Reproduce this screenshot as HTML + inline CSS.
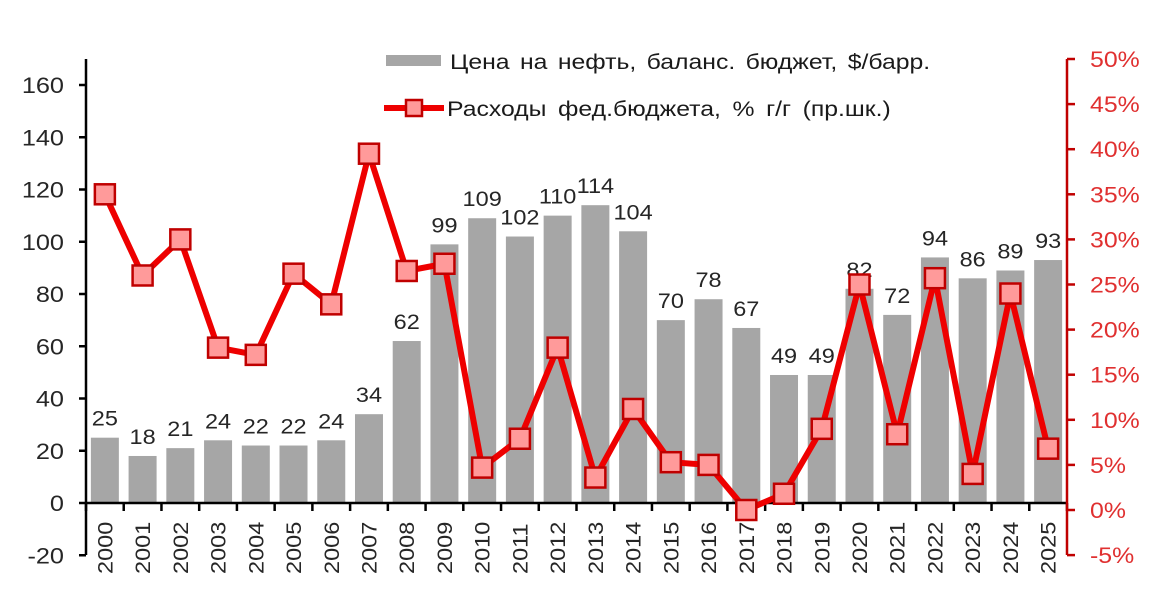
<!DOCTYPE html>
<html><head><meta charset="utf-8"><style>
html,body{margin:0;padding:0;background:#fff;}
svg{display:block;font-family:"Liberation Sans",Arial,sans-serif;}
</style></head><body>
<svg id="c" width="1166" height="616" viewBox="0 0 1166 616" xmlns="http://www.w3.org/2000/svg"></svg>
<script>
const s=document.getElementById('c');
const bars=[25,18,21,24,22,22,24,34,62,99,109,102,110,114,104,70,78,67,49,49,82,72,94,86,89,93];
const pct=[35,26,30,18,17.2,26.2,22.8,39.5,26.5,27.3,4.7,7.9,18,3.6,11.2,5.3,5,0,1.8,9,25,8.4,25.7,4,24,6.8];
const X0=86,X1=1067,W=(X1-X0)/26;
const cx=i=>X0+W/2+W*i;
const yL=v=>503-v*2.6125;
const yR=p=>510-p*9.02;
const T=(x,y,sx,fs,anchor,fill,txt,ws)=>`<text transform="translate(${x},${y}) scale(${sx},1)" font-size="${fs}" text-anchor="${anchor}" fill="${fill}"${ws?` word-spacing="${ws}"`:''}>${txt}</text>`;
let h='';
bars.forEach((v,i)=>{const y=yL(v);h+=`<rect x="${cx(i)-14}" y="${y}" width="28" height="${503-y}" fill="#a6a6a6"/>`;
h+=T(cx(i),y-12,1.12,21,'middle','#262626',v);});
h+=`<line x1="${X0}" y1="59" x2="${X0}" y2="555" stroke="#000" stroke-width="2.5"/>`;
for(let v=-20;v<=160;v+=20){const y=yL(v);h+=`<line x1="${X0-7}" y1="${y}" x2="${X0}" y2="${y}" stroke="#000" stroke-width="2.5"/>`;
h+=T(X0-22,y+8,1.15,22,'end','#262626',v);}
h+=`<line x1="${X0}" y1="503" x2="${X1}" y2="503" stroke="#000" stroke-width="2.5"/>`;
for(let i=0;i<=26;i++){const x=X0+W*i;h+=`<line x1="${x}" y1="503" x2="${x}" y2="511" stroke="#000" stroke-width="2.5"/>`;}
for(let i=0;i<26;i++){h+=`<text transform="translate(${cx(i)+7.5},574) rotate(-90) scale(1.12,1)" font-size="21" fill="#262626">${2000+i}</text>`;}
h+=`<line x1="${X1}" y1="59" x2="${X1}" y2="555" stroke="#c00000" stroke-width="2.5"/>`;
for(let p=-5;p<=50;p+=5){const y=yR(p);h+=`<line x1="${X1}" y1="${y}" x2="${X1+8}" y2="${y}" stroke="#c00000" stroke-width="2.5"/>`;
h+=T(X1+23,y+8,1.13,22,'start','#e03030',p+'%');}
h+=`<polyline fill="none" stroke="#ee0000" stroke-width="6" stroke-linejoin="round" points="${pct.map((p,i)=>cx(i)+','+yR(p)).join(' ')}"/>`;
pct.forEach((p,i)=>{h+=`<rect x="${cx(i)-10}" y="${yR(p)-10}" width="20" height="20" fill="#ff9a9a" stroke="#c00000" stroke-width="2.5"/>`;});
h+=`<rect x="386" y="55" width="55" height="11" fill="#a6a6a6"/>`;
h+=T(450,69,1.18,21,'start','#1a1a1a','Цена на нефть, баланс. бюджет, $/барр.',3);
h+=`<line x1="384" y1="108" x2="444" y2="108" stroke="#ee0000" stroke-width="6"/>`;
h+=`<rect x="406" y="100" width="16" height="16" fill="#ff9a9a" stroke="#c00000" stroke-width="2.5"/>`;
h+=T(447,116,1.18,21,'start','#1a1a1a','Расходы фед.бюджета, % г/г (пр.шк.)',4);
s.innerHTML=h;
</script>
</body></html>
